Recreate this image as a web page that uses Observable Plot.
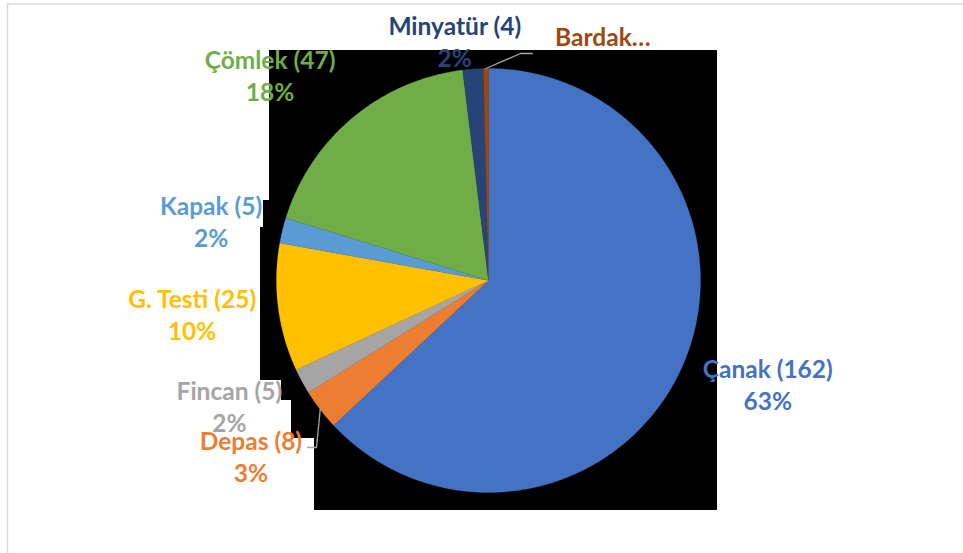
<!DOCTYPE html>
<html>
<head>
<meta charset="utf-8">
<script src="https://cdn.jsdelivr.net/npm/d3@7"></script>
<script src="https://cdn.jsdelivr.net/npm/@observablehq/plot@0.6"></script>
<style>
  html, body { margin: 0; padding: 0; background: #fff; }
  #chart svg { display: block; }
</style>
</head>
<body>
<div id="chart"></div>
<script>
// ---- data ----
const categories = ["Çanak", "Depas", "Fincan", "G. Testi", "Kapak", "Çömlek", "Minyatür", "Bardak"];
const counts = [162, 8, 5, 25, 5, 47, 4, 1];
const colors = ["#4472C4", "#ED7D31", "#A5A5A5", "#FFC000", "#5B9BD5", "#70AD47", "#264478", "#9E480E"];
const truncatedLabels = { "Bardak": "Bardak…" };

// ---- layout (pixels) ----
const W = 963, H = 553;
const cx = 488, cy = 280, R = 212;
const labelRadius = 1.4 * R;
const labelNudge = [[7, -15], [-2, -5], [2, -16], [-2, -5], [11, 10], [-28, 22], [-12, 56], [118, 52]];
const leaderElbows = { "Bardak": [[520, 53], [532, 53]], "Depas": [[316, 447], [307, 447]] };
const blackBands = [
  [269, 717, 50, 200], [263, 717, 200, 227], [260, 717, 227, 380],
  [281, 717, 380, 400], [291, 717, 400, 438], [314, 717, 438, 510]
];

// ---- derived geometry ----
const total = d3.sum(counts);
const arcs = d3.pie().sort(null)(counts);
const polar = (a, r) => [cx + r * Math.sin(a), cy - r * Math.cos(a)];

const slicePts = [];
arcs.forEach((a, i) => {
  const n = Math.max(2, Math.ceil((a.endAngle - a.startAngle) / (Math.PI / 360)));
  slicePts.push({ name: categories[i], x: cx, y: cy });
  for (let k = 0; k <= n; k++) {
    const t = a.startAngle + (a.endAngle - a.startAngle) * k / n;
    const [x, y] = polar(t, R);
    slicePts.push({ name: categories[i], x, y });
  }
  slicePts.push({ name: categories[i], x: cx, y: cy });
});

const labels = arcs.map((a, i) => {
  const mid = (a.startAngle + a.endAngle) / 2;
  const [bx, by] = polar(mid, labelRadius);
  const name = categories[i];
  const pct = Math.round(counts[i] / total * 100);
  return {
    name,
    x: bx + labelNudge[i][0],
    y: by + labelNudge[i][1],
    text: truncatedLabels[name] ?? `${name} (${counts[i]})\n${pct}%`
  };
});

const leaders = [];
arcs.forEach((a, i) => {
  const name = categories[i];
  if (!leaderElbows[name]) return;
  const [sx, sy] = polar((a.startAngle + a.endAngle) / 2, R);
  leaders.push({ name, x: sx, y: sy });
  leaderElbows[name].forEach(([x, y]) => leaders.push({ name, x, y }));
});

const bands = blackBands.map(([x1, x2, y1, y2]) => ({ x1, x2, y1, y2 }));

const chart = Plot.plot({
  width: W,
  height: H,
  margin: 0,
  x: { type: "identity", axis: null },
  y: { type: "identity", axis: null },
  color: { domain: categories, range: colors },
  style: { background: "#fff" },
  marks: [
    Plot.rect([{ x1: 7.5, x2: W + 10, y1: 4, y2: H + 10 }], { x1: "x1", x2: "x2", y1: "y1", y2: "y2", fill: "none", stroke: "#d9d9d9", strokeWidth: 1.5 }),
    Plot.rect(bands, { x1: "x1", x2: "x2", y1: "y1", y2: "y2", fill: "#000" }),
    Plot.line(slicePts, { x: "x", y: "y", z: "name", fill: "name", stroke: "name", strokeWidth: 0.3, curve: "linear" }),
    Plot.line(leaders, { x: "x", y: "y", z: "name", stroke: "#a6a6a6", strokeWidth: 1.3 }),
    Plot.text(labels, {
      x: "x", y: "y", text: "text", fill: "name",
      fontSize: 24.5, fontWeight: "bold", fontFamily: "Lato, 'Noto Sans', sans-serif",
      lineHeight: 1.31, textAnchor: "middle", lineAnchor: "middle"
    })
  ]
});
document.getElementById("chart").appendChild(chart);
</script>
</body>
</html>
